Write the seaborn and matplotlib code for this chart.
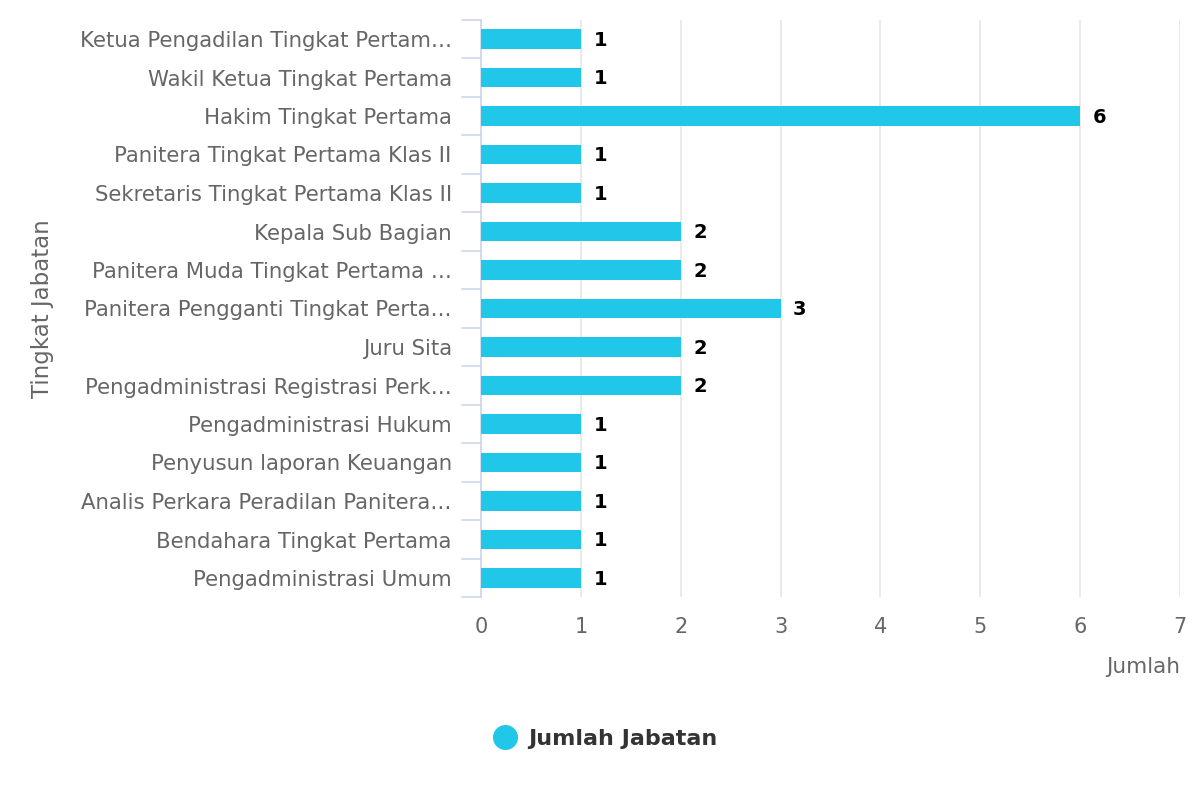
import matplotlib
matplotlib.use("Agg")
import matplotlib.pyplot as plt
import seaborn as sns
import pandas as pd
from matplotlib.lines import Line2D

categories = [
    "Ketua Pengadilan Tingkat Pertam…",
    "Wakil Ketua Tingkat Pertama",
    "Hakim Tingkat Pertama",
    "Panitera Tingkat Pertama Klas II",
    "Sekretaris Tingkat Pertama Klas II",
    "Kepala Sub Bagian",
    "Panitera Muda Tingkat Pertama …",
    "Panitera Pengganti Tingkat Perta…",
    "Juru Sita",
    "Pengadministrasi Registrasi Perk…",
    "Pengadministrasi Hukum",
    "Penyusun laporan Keuangan",
    "Analis Perkara Peradilan Panitera…",
    "Bendahara Tingkat Pertama",
    "Pengadministrasi Umum",
]
values = [1, 1, 6, 1, 1, 2, 2, 3, 2, 2, 1, 1, 1, 1, 1]
x_ticks = [0, 1, 2, 3, 4, 5, 6, 7]
series_name = "Jumlah Jabatan"
x_title = "Jumlah"
y_title = "Tingkat Jabatan"

df = pd.DataFrame({"cat": categories, "val": values})

sns.set_theme(style="white")
plt.rcParams["font.family"] = ["DejaVu Sans"]

BAR = "#21c7e9"
GRID = "#e6e6e6"
AXIS = "#ccd6eb"
TXT = "#666666"

fig = plt.figure(figsize=(12, 8), dpi=100)
ax = fig.add_axes([481 / 1200, 1 - 597.25 / 800, (1180 - 481) / 1200, (597.25 - 19.75) / 800])

sns.barplot(data=df, x="val", y="cat", orient="h", color=BAR, width=0.5,
            saturation=1, ax=ax, zorder=3)
for p in ax.patches:
    p.set_edgecolor("none")

ax.set_xlim(0, 7)
ax.set_ylim(len(categories) - 0.5, -0.5)
ax.set_xticks(x_ticks)
ax.set_xticklabels([str(t) for t in x_ticks])
ax.grid(axis="x", color=GRID, linewidth=1.2, zorder=0)
ax.grid(axis="y", visible=False)

for s in ["top", "right", "bottom"]:
    ax.spines[s].set_visible(False)
ax.spines["left"].set_color(AXIS)
ax.spines["left"].set_linewidth(1.2)

ax.tick_params(axis="x", length=0, labelsize=15, labelcolor=TXT, pad=14)
ax.tick_params(axis="y", length=0, labelsize=15.3, labelcolor=TXT, pad=21)

# tick marks at category boundaries
for b in [i - 0.5 for i in range(len(categories) + 1)]:
    ax.plot([-19 / 99.9, 0], [b, b], color=AXIS, lw=1.2, clip_on=False, zorder=4)

for i, v in enumerate(values):
    ax.annotate(str(v), (v, i), xytext=(9, -1), textcoords="offset points",
                ha="left", va="center", fontsize=14, fontweight="bold", color="black")

ax.set_xlabel("")
ax.set_ylabel("")
fig.text(1180 / 1200, 1 - 667 / 800, x_title, ha="right", va="center", fontsize=15.5, color=TXT)
fig.text(42 / 1200, 1 - 309 / 800, y_title, ha="center", va="center", rotation=90,
         fontsize=16.5, color=TXT)

handle = Line2D([0], [0], marker="o", linestyle="none", markersize=17,
                markerfacecolor=BAR, markeredgecolor=BAR)
fig.legend([handle], [series_name], loc="center", bbox_to_anchor=(606 / 1200, 1 - 739 / 800),
           frameon=False, prop={"size": 16, "weight": "bold"}, labelcolor="#333333",
           handletextpad=0.55, handlelength=1.0)

fig.savefig("out.png", dpi=100)
